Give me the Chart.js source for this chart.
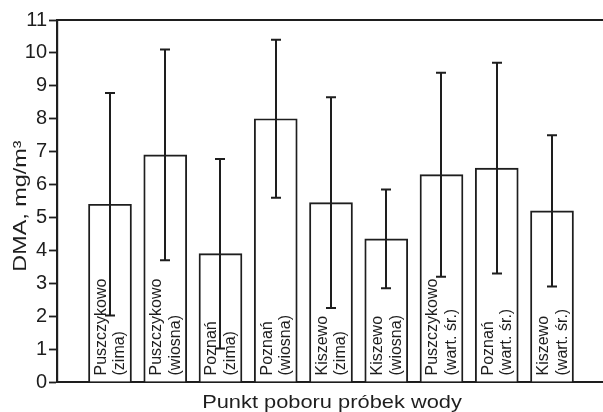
<!DOCTYPE html>
<html>
<head>
<meta charset="utf-8">
<script src="https://cdn.jsdelivr.net/npm/chart.js@4/dist/chart.umd.min.js"></script>
<style>
  html, body { margin: 0; padding: 0; background: #fff; }
  canvas { display: block; }
</style>
</head>
<body>
<canvas id="c" width="603" height="412"></canvas>
<script>
// Sampling sites and seasons (two-line labels written inside each bar)
const sites   = ['Puszczykowo', 'Puszczykowo', 'Poznań', 'Poznań', 'Kiszewo', 'Kiszewo', 'Puszczykowo', 'Poznań', 'Kiszewo'];
const periods = ['(zima)', '(wiosna)', '(zima)', '(wiosna)', '(zima)', '(wiosna)', '(wart. śr.)', '(wart. śr.)', '(wart. śr.)'];

// Mean DMA concentration and standard deviation, mg/m3
const dmaMean = [5.4, 6.9, 3.9, 8.0, 5.45, 4.35, 6.3, 6.5, 5.2];
const dmaSd   = [3.38, 3.2, 2.88, 2.4, 3.2, 1.5, 3.1, 3.2, 2.3];

// Value axis
const yMin = 0, yMax = 11, yStep = 1;

const yTitle = 'DMA, mg/m³';
const xTitle = 'Punkt poboru próbek wody';

const INK = '#1e1e1e';
const FONT = '"Liberation Sans", Arial, Helvetica, sans-serif';

function drawText(ctx, text, x, y, o) {
  ctx.save();
  ctx.translate(x, y);
  ctx.rotate(o.rot || 0);
  ctx.scale(o.stretch || 1, 1);
  ctx.font = o.size + 'px ' + FONT;
  ctx.fillStyle = INK;
  ctx.textAlign = o.align || 'left';
  ctx.textBaseline = 'alphabetic';
  ctx.fillText(text, 0, 0);
  ctx.restore();
}

// Rotated site/season labels inside the bars
const barLabels = {
  id: 'barLabels',
  afterDatasetsDraw(chart) {
    const { ctx, scales: { x, y } } = chart;
    const base = y.getPixelForValue(0) - 6.5;
    sites.forEach((s, i) => {
      const cx = x.getPixelForValue(i);
      drawText(ctx, s, cx - 4, base, { rot: -Math.PI / 2, size: 16 });
      drawText(ctx, periods[i], cx + 14.5, base, { rot: -Math.PI / 2, size: 16 });
    });
  }
};

// Error bars (mean ± SD) with caps
const errorBars = {
  id: 'errorBars',
  afterDatasetsDraw(chart) {
    const { ctx, scales: { x, y } } = chart;
    ctx.save();
    ctx.strokeStyle = INK;
    ctx.lineWidth = 2;
    dmaMean.forEach((m, i) => {
      const cx = Math.round(x.getPixelForValue(i));
      const top = y.getPixelForValue(m + dmaSd[i]);
      const bot = y.getPixelForValue(m - dmaSd[i]);
      ctx.beginPath();
      ctx.moveTo(cx, top); ctx.lineTo(cx, bot);
      ctx.moveTo(cx - 5, top); ctx.lineTo(cx + 5, top);
      ctx.moveTo(cx - 5, bot); ctx.lineTo(cx + 5, bot);
      ctx.stroke();
    });
    ctx.restore();
  }
};

// Axis titles
const axisTitles = {
  id: 'axisTitles',
  afterDraw(chart) {
    const { ctx } = chart;
    drawText(ctx, yTitle, 25.5, 206, { rot: -Math.PI / 2, size: 18, stretch: 1.3, align: 'center' });
    drawText(ctx, xTitle, 332, 408.3, { size: 18.5, stretch: 1.18, align: 'center' });
  }
};

new Chart(document.getElementById('c'), {
  type: 'bar',
  data: {
    datasets: [{
      data: dmaMean.map((v, i) => ({ x: i, y: v })),
      backgroundColor: '#ffffff',
      borderColor: INK,
      borderWidth: 1.9,
      barThickness: 43
    }]
  },
  options: {
    responsive: false,
    animation: false,
    layout: { padding: 0 },
    plugins: { legend: { display: false }, tooltip: { enabled: false } },
    scales: {
      x: {
        type: 'linear',
        position: 'bottom',
        offset: false,
        min: -0.959,
        max: 8.923,
        ticks: { display: false },
        grid: { display: true, drawOnChartArea: false, drawTicks: false, offset: false },
        border: { display: true, color: INK, width: 2 },
        afterFit(s) { s.height = 30; }
      },
      xTop: {
        type: 'linear',
        position: 'top',
        offset: false,
        min: -0.959,
        max: 8.923,
        ticks: { display: false },
        grid: { display: true, drawOnChartArea: false, drawTicks: false, offset: false },
        border: { display: true, color: INK, width: 2 },
        afterFit(s) { s.height = 20; }
      },
      y: {
        min: yMin,
        max: yMax,
        ticks: {
          stepSize: yStep,
          color: INK,
          padding: 2,
          font: { family: FONT, size: 20 }
        },
        grid: { display: true, drawOnChartArea: false, drawTicks: true, tickLength: 8, tickWidth: 1.8, tickColor: INK },
        border: { display: true, color: INK, width: 2.2 },
        afterFit(s) { s.width = 57; }
      }
    }
  },
  plugins: [barLabels, errorBars, axisTitles]
});
</script>
</body>
</html>
